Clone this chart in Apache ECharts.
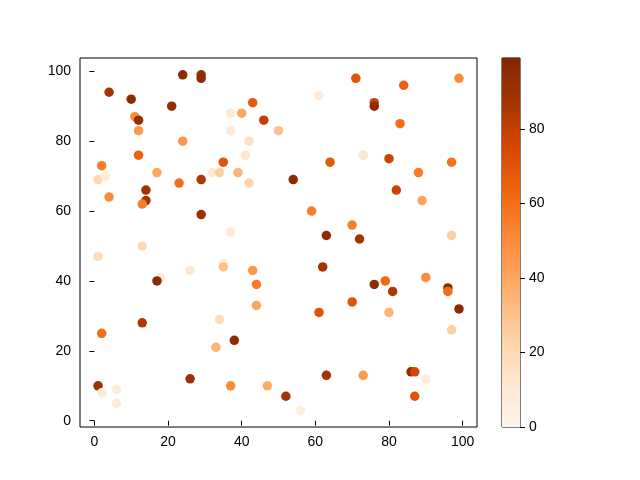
<!DOCTYPE html>
<html>
<head>
<meta charset="utf-8">
<script src="https://cdn.jsdelivr.net/npm/echarts@6/dist/echarts.min.js"></script>
<style>html,body{margin:0;padding:0;background:#fff;}#c{width:640px;height:480px;}</style>
</head>
<body>
<div id="c"></div>
<script>
const xs = [24,29,29,4,10,21,43,11,12,37,40,46,50,12,37,24,42,12,41,2,35,1,3,17,32,34,39,42,23,29,4,14,14,13,29,37,13,71,99,84,61,76,76,83,73,64,80,97,54,88,82,89,59,70,63,72,97,1,26,35,35,43,44,44,18,17,13,2,34,38,33,26,1,2,6,6,37,47,62,76,79,81,90,96,96,99,70,61,80,97,63,73,86,87,90,52,87,56];
const ys = [99,99,98,94,92,90,91,87,86,88,88,86,83,83,83,80,80,76,76,73,74,69,70,71,71,71,71,68,68,69,64,66,63,62,59,54,50,98,98,96,93,91,90,85,76,74,75,74,69,71,66,63,60,56,53,52,53,47,43,45,44,43,39,33,41,40,28,25,29,23,21,12,10,8,9,5,10,10,44,39,40,37,41,38,37,32,34,31,31,26,13,13,14,14,12,7,7,3];
const cs = [95,92,95,88,95,93,68,50,92,10,40,80,30,45,8,45,15,65,12,55,70,20,8,40,10,25,35,22,60,85,50,88,88,55,90,12,20,70,50,65,10,78,95,60,12,68,78,58,95,55,78,40,55,55,95,88,25,18,12,8,30,45,55,40,10,95,85,60,18,95,35,90,90,10,8,8,50,38,88,95,62,85,50,95,60,95,70,70,35,25,88,45,95,75,8,88,70,5];
const xTicks = [0,20,40,60,80,100];
const yTicks = [0,20,40,60,80,100];
const cbTicks = [0,20,40,60,80];
const cMin = 0, cMax = 99;
const oranges = ['#fff5eb','#fee6ce','#fdd0a2','#fdae6b','#fd8d3c','#f16913','#d94801','#a63603','#7f2704'];

const pts = xs.map((x,i)=>[x, ys[i], cs[i]]);
const font = {color:'#000', fontSize:14, fontFamily:'Liberation Sans'};
const chart = echarts.init(document.getElementById('c'), null, {renderer:'canvas'});
chart.setOption({
  animation:false,
  grid:[
    {left:80, top:58, width:397, height:369, show:true, borderColor:'#000', borderWidth:1, backgroundColor:'transparent'},
    {left:502, top:58, width:18, height:369, show:true, borderColor:'#000', borderWidth:1, backgroundColor:'transparent'}
  ],
  xAxis:[
    {type:'value', gridIndex:0, min:-3.9, max:103.9, splitLine:{show:false}, axisLine:{show:false},
     axisTick:{show:true, length:5, customValues:xTicks, lineStyle:{color:'#000'}},
     axisLabel:Object.assign({customValues:xTicks, margin:8}, font)},
    {type:'category', gridIndex:1, data:['c'], show:false}
  ],
  yAxis:[
    {type:'value', gridIndex:0, min:-1.8, max:103.8, splitLine:{show:false}, axisLine:{show:false},
     axisTick:{show:true, length:5, customValues:yTicks, lineStyle:{color:'#000'}},
     axisLabel:Object.assign({customValues:yTicks, margin:9}, font)},
    {type:'value', gridIndex:1, position:'right', min:cMin, max:cMax, splitLine:{show:false}, axisLine:{show:false},
     axisTick:{show:true, length:5, customValues:cbTicks, lineStyle:{color:'#000'}},
     axisLabel:Object.assign({customValues:cbTicks, margin:9}, font)}
  ],
  visualMap:{type:'continuous', show:false, min:cMin, max:cMax, dimension:2, seriesIndex:0, inRange:{color:oranges}},
  series:[
    {type:'scatter', xAxisIndex:0, yAxisIndex:0, data:pts, symbolSize:9.5, itemStyle:{opacity:1}},
    {type:'bar', xAxisIndex:1, yAxisIndex:1, data:[cMax], barWidth:'100%', silent:true,
     itemStyle:{color:new echarts.graphic.LinearGradient(0,0,0,1, oranges.slice().reverse().map((c,i)=>({offset:i/8, color:c})))}}
  ]
});
</script>
</body>
</html>
